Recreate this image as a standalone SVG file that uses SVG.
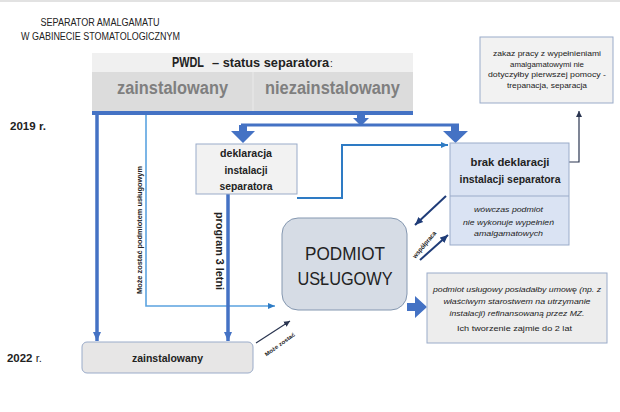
<svg xmlns="http://www.w3.org/2000/svg" width="620" height="412" viewBox="0 0 620 412">
<style>
text{font-family:"Liberation Sans",Arial,sans-serif;fill:#222}
.b{font-weight:bold}
.i{font-style:italic}
.box{stroke:#9aabc9;stroke-width:1}
.thick{stroke:#4472c4;stroke-width:3.5;fill:none}
.thin{stroke:#2e7bc4;stroke-width:2;fill:none}
.light{stroke:#5ba3e0;stroke-width:1.6;fill:none}
.navy{stroke:#1f3c78;stroke-width:2;fill:none}
.dark{stroke:#2a3550;stroke-width:1.2;fill:none}
.blk{fill:#4472c4}
</style>
<defs>
<marker id="mb" markerUnits="userSpaceOnUse" markerWidth="10" markerHeight="10" refX="9" refY="5" orient="auto"><path d="M0,1 L9,5 L0,9 z" fill="#4472c4"/></marker>
<marker id="ml" markerUnits="userSpaceOnUse" markerWidth="8" markerHeight="8" refX="7" refY="4" orient="auto"><path d="M0,1 L7,4 L0,7 z" fill="#2e7bc4"/></marker>
<marker id="mn" markerUnits="userSpaceOnUse" markerWidth="9" markerHeight="9" refX="8" refY="4.5" orient="auto"><path d="M0,1 L8,4.5 L0,8 z" fill="#1f3c78"/></marker>
<marker id="md" markerUnits="userSpaceOnUse" markerWidth="7" markerHeight="7" refX="6" refY="3.5" orient="auto"><path d="M0,0.5 L6,3.5 L0,6.5 z" fill="#2a3550"/></marker>
</defs>
<rect x="0" y="0" width="620" height="412" fill="#fff"/>
<line x1="0" y1="1" x2="620" y2="1" stroke="#e2e2e2" stroke-width="2"/>

<g id="title">
<text x="100" y="26" font-size="10" text-anchor="middle" textLength="119" lengthAdjust="spacingAndGlyphs" fill="#333">SEPARATOR AMALGAMATU</text>
<text x="100.5" y="40" font-size="10" text-anchor="middle" textLength="159" lengthAdjust="spacingAndGlyphs" fill="#333">W GABINECIE STOMATOLOGICZNYM</text>
</g>

<g id="header">
<rect x="92" y="53" width="321" height="19" fill="#f0f0f0"/>
<rect x="92" y="72" width="321" height="39" fill="#dcdcdc"/>
<line x1="253" y1="72" x2="253" y2="111" stroke="#eaeaea" stroke-width="1"/>
<rect x="92" y="111" width="321" height="4" fill="#4472c4"/>
<text x="172" y="67" font-size="14" class="b" textLength="32" lengthAdjust="spacingAndGlyphs">PWDL</text>
<text x="212" y="67" font-size="12" class="b" textLength="117" lengthAdjust="spacingAndGlyphs">– status  separatora</text>
<text x="330" y="67" font-size="10">:</text>
<text x="172.5" y="94" font-size="18" class="b" text-anchor="middle" textLength="111" lengthAdjust="spacingAndGlyphs" style="fill:#7f7f7f">zainstalowany</text>
<text x="332.5" y="94" font-size="18" class="b" text-anchor="middle" textLength="135" lengthAdjust="spacingAndGlyphs" style="fill:#7f7f7f">niezainstalowany</text>
</g>

<g id="year2019"><text x="10" y="130" font-size="10" class="b" textLength="36" lengthAdjust="spacingAndGlyphs">2019 r.</text></g>
<g id="year2022"><text x="7" y="362" font-size="10" textLength="35" lengthAdjust="spacingAndGlyphs"><tspan class="b">2022</tspan> r.</text></g>

<g id="connectors">
<path class="blk" d="M357,114 H365 V118 H369 L361,126 L353,118 H357 Z"/>
<line x1="241" y1="125" x2="459" y2="125" stroke="#4472c4" stroke-width="3"/>
<path class="blk" d="M239,125 H247 V131 H255 L243,143 L231,131 H239 Z"/>
<path class="blk" d="M451,125 H459 V131 H468 L455.5,143 L443,131 H451 Z"/>
<line class="thick" x1="97" y1="115" x2="97" y2="341" marker-end="url(#mb)"/>
<polyline class="light" points="146,115 146,306 275,306" marker-end="url(#ml)"/>
<line class="thick" x1="228" y1="194" x2="228" y2="341" marker-end="url(#mb)"/>
<polyline class="thin" points="297,198 342,198 342,145 448,145" marker-end="url(#ml)"/>
<polyline class="dark" points="569,162 579,162 579,111" marker-end="url(#md)"/>
<line class="navy" x1="446" y1="196" x2="415" y2="225" marker-end="url(#mn)"/>
<line class="navy" x1="420" y1="260" x2="448" y2="235" marker-end="url(#mn)"/>
<text transform="translate(426,246) rotate(-50)" font-size="6.5" class="b" text-anchor="middle" textLength="33" lengthAdjust="spacingAndGlyphs">współpraca</text>
<line class="dark" x1="256" y1="343" x2="290" y2="321" marker-end="url(#md)"/>
<text transform="translate(281,346) rotate(-36)" font-size="5.5" class="b" text-anchor="middle" textLength="36" lengthAdjust="spacingAndGlyphs">Może zostać</text>
<text transform="translate(142,230) rotate(-90)" font-size="6.5" class="b" text-anchor="middle" textLength="128" lengthAdjust="spacingAndGlyphs">Może zostać podmiotem usługowym</text>
<text transform="translate(216,251) rotate(90)" font-size="11" class="b" text-anchor="middle" textLength="78" lengthAdjust="spacingAndGlyphs">program 3 letni</text>
<path class="blk" d="M407,303 H415 V296 L427,307 L415,318 V311 H407 Z"/>
</g>

<g id="deklaracja">
<rect class="box" x="196" y="144" width="101" height="50" fill="#f2f2f2"/>
<text x="246" y="157" font-size="11" class="b" text-anchor="middle" textLength="52" lengthAdjust="spacingAndGlyphs">deklaracja</text>
<text x="246" y="174" font-size="11" class="b" text-anchor="middle" textLength="43" lengthAdjust="spacingAndGlyphs">instalacji</text>
<text x="246" y="190" font-size="11" class="b" text-anchor="middle" textLength="53" lengthAdjust="spacingAndGlyphs">separatora</text>
</g>

<g id="brak">
<rect class="box" x="450" y="143" width="119" height="102" fill="#dae3f3"/>
<line x1="450" y1="196" x2="569" y2="196" stroke="#9aabc9" stroke-width="1"/>
<text x="510" y="166" font-size="11" class="b" text-anchor="middle" textLength="79" lengthAdjust="spacingAndGlyphs">brak deklaracji</text>
<text x="510" y="183" font-size="11" class="b" text-anchor="middle" textLength="101" lengthAdjust="spacingAndGlyphs">instalacji separatora</text>
<text x="508.5" y="212" font-size="8" class="i" text-anchor="middle" textLength="69" lengthAdjust="spacingAndGlyphs" fill="#333">wówczas podmiot</text>
<text x="508.5" y="225" font-size="8" class="i" text-anchor="middle" textLength="91" lengthAdjust="spacingAndGlyphs" fill="#333">nie wykonuje wypełnień</text>
<text x="508.5" y="236" font-size="8" class="i" text-anchor="middle" textLength="69" lengthAdjust="spacingAndGlyphs" fill="#333">amalgamatowych</text>
</g>

<g id="zakaz">
<rect class="box" x="480" y="37" width="133" height="66" fill="#f2f2f2"/>
<text x="547" y="56" font-size="8" text-anchor="middle" textLength="108" lengthAdjust="spacingAndGlyphs">zakaz pracy z wypełnieniami</text>
<text x="547" y="67" font-size="8" text-anchor="middle" textLength="74" lengthAdjust="spacingAndGlyphs">amalgamatowymi nie</text>
<text x="547" y="77" font-size="8" text-anchor="middle" textLength="118" lengthAdjust="spacingAndGlyphs">dotyczyłby pierwszej pomocy -</text>
<text x="547" y="88" font-size="8" text-anchor="middle" textLength="80" lengthAdjust="spacingAndGlyphs">trepanacja, separacja</text>
</g>

<g id="podmiot">
<rect x="282" y="218" width="125" height="92" rx="16" fill="#d6dce5" stroke="#8497b0" stroke-width="1"/>
<text x="345" y="260" font-size="19" text-anchor="middle" textLength="80" lengthAdjust="spacingAndGlyphs">PODMIOT</text>
<text x="345" y="285" font-size="19" text-anchor="middle" textLength="95" lengthAdjust="spacingAndGlyphs">USŁUGOWY</text>
</g>

<g id="podmiot-info">
<rect class="box" x="427" y="273" width="180" height="70" fill="#ededed"/>
<text x="517" y="292" font-size="8" class="i" text-anchor="middle" textLength="168" lengthAdjust="spacingAndGlyphs">podmiot usługowy posiadałby umowę (np. z</text>
<text x="517" y="304" font-size="8" class="i" text-anchor="middle" textLength="147" lengthAdjust="spacingAndGlyphs">właściwym starostwem na utrzymanie</text>
<text x="517" y="316" font-size="8" class="i" text-anchor="middle" textLength="135" lengthAdjust="spacingAndGlyphs">instalacji) refinansowaną przez MZ.</text>
<text x="514.5" y="331" font-size="8" text-anchor="middle" textLength="115" lengthAdjust="spacingAndGlyphs">Ich tworzenie zajmie do 2 lat</text>
</g>

<g id="zainstalowany">
<rect x="82" y="342" width="171" height="31" rx="5" fill="#e7e6e6" stroke="#9aabc9" stroke-width="1"/>
<text x="167.5" y="362" font-size="11" class="b" text-anchor="middle" textLength="71" lengthAdjust="spacingAndGlyphs">zainstalowany</text>
</g>
</svg>
